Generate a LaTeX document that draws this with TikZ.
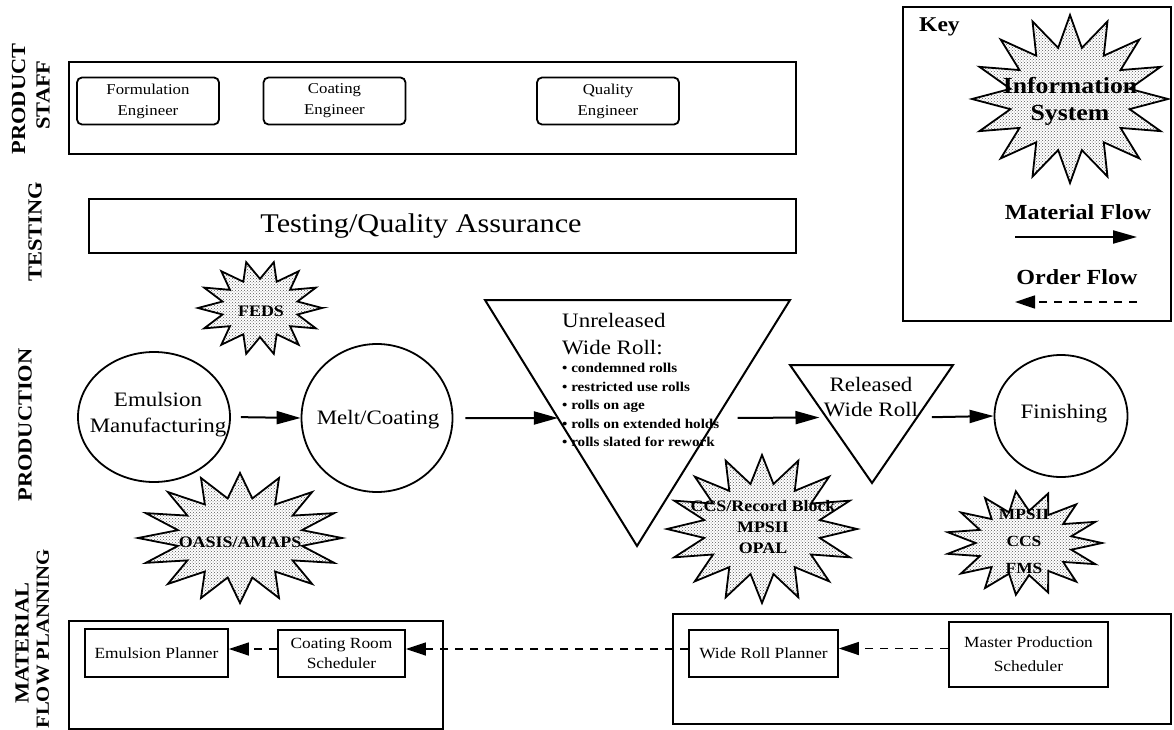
\documentclass[tikz,border=0pt]{standalone}
\usepackage{fontspec}
\setmainfont{Liberation Serif}[FakeStretch=1.12]
\usetikzlibrary{arrows.meta,calc,patterns,shapes.geometric}

% starburst outline: centre x, centre y, radius x, radius y, points, samples (=2*points+1)
\newcommand\burst[6]{%
  \draw[burststyle] plot[samples=#6, domain=0:360, variable=\t]
    ({#1+#3*(0.81+0.19*cos(#5*\t))*cos(\t)},{#2+#4*(0.81+0.19*cos(#5*\t))*sin(\t)}) -- cycle;}

\begin{document}
\begin{tikzpicture}[x=1pt,y=-1pt,
  every node/.style={inner sep=0pt, align=center},
  lane/.style={draw, line width=1.8pt, anchor=north west},
  lanelabel/.style={rotate=90, font=\bfseries\fontsize{20}{22}\selectfont},
  staffbox/.style={draw, rounded corners=5pt, line width=1.8pt, minimum width=142pt,
    minimum height=47pt, font=\fontsize{15}{21}\selectfont},
  planbox/.style={draw, line width=1.8pt, font=\fontsize{15.5}{20}\selectfont},
  proc/.style={draw, ellipse, line width=1.8pt},
  bigtext/.style={font=\fontsize{20.5}{26}\selectfont},
  trianglestyle/.style={draw, line width=2pt, line join=miter},
  burststyle/.style={draw, line width=1.8pt, line join=miter, preaction={fill=white},
    pattern=crosshatch dots, pattern color=black!65},
  systext/.style={font=\bfseries\fontsize{16}{21}\selectfont},
  keytext/.style={font=\bfseries\fontsize{21.5}{24}\selectfont},
  flow/.style={line width=2pt, -{Triangle[length=24pt,width=13pt]}},
  order/.style={line width=1.6pt, dash pattern=on 8pt off 7pt, -{Triangle[length=20pt,width=13pt]}},
]
\useasboundingbox (0,0) rectangle (1174,730);

% ---- lane titles ----
\node[lanelabel] (lblproduct) at (18.5,99) {PRODUCT};
\node[lanelabel] (lblstaff) at (43,95) {STAFF};
\node[lanelabel] (lbltesting) at (35,232) {TESTING};
\node[lanelabel] (lblproduction) at (25,425) {PRODUCTION};
\node[lanelabel] (lblmaterial) at (22,643) {MATERIAL};
\node[lanelabel, font=\bfseries\fontsize{18.5}{22}\selectfont] (lblflow) at (43,639) {FLOW PLANNING};

% ---- product staff ----
\node[lane, minimum width=727pt, minimum height=92pt] (staff) at (68,61) {};
\node[staffbox] (formeng) at (148,101) {Formulation\\Engineer};
\node[staffbox] (coateng) at (334.5,101) {Coating\\Engineer};
\node[staffbox] (qualeng) at (608,101) {Quality\\Engineer};

% ---- testing ----
\node[lane, minimum width=707pt, minimum height=54pt] (testing) at (88,198) {};
\node[font=\fontsize{27}{30}\selectfont] (testtext) at (421,226) {Testing/Quality Assurance};

% ---- information systems ----
\burst{260}{308}{62}{47}{14}{29}
\node[systext] (feds) at (261,311) {FEDS};
\burst{240}{538}{102}{65}{16}{33}
\node[systext] (oasis) at (240,542) {OASIS/AMAPS};
\burst{762}{529}{95}{74}{16}{33}
\node[systext] (ccs) at (763,527) {CCS/Record Block\\MPSII\\OPAL};
\burst{1024}{543}{78}{52}{15}{31}
\node[systext, font=\bfseries\fontsize{15.5}{27}\selectfont] (mpsii) at (1024,541) {MPSII\\CCS\\FMS};

% ---- production ----
\node[proc, minimum width=152pt, minimum height=130pt] (emul) at (154,417) {};
\node[bigtext] (emultext) at (158,415) {Emulsion\\Manufacturing};
\node[proc, minimum width=151pt, minimum height=148pt] (melt) at (377,418) {};
\node[bigtext] (melttext) at (378,420) {Melt/Coating};

\coordinate (u1) at (485,300);
\coordinate (u2) at (790,300);
\coordinate (u3) at (637,546);
\draw[trianglestyle] (u1) -- (u2) -- (u3) -- cycle;
\coordinate (uL) at ($(u1)!0.4797!(u3)$);
\coordinate (uR) at ($(u2)!0.4797!(u3)$);
\node[bigtext, align=left, anchor=west, font=\fontsize{20.5}{27}\selectfont] (unreltitle) at (562,334) {Unreleased\\Wide Roll:};
\node[align=left, anchor=west, font=\bfseries\fontsize{13.5}{18.5}\selectfont] (unrellist) at (562,405)
  {• condemned rolls\\• restricted use rolls\\• rolls on age\\• rolls on extended holds\\• rolls slated for rework};

\coordinate (r1) at (790,365);
\coordinate (r2) at (953,365);
\coordinate (r3) at (872,483);
\draw[trianglestyle] (r1) -- (r2) -- (r3) -- cycle;
\coordinate (rL) at ($(r1)!0.4449!(r3)$);
\coordinate (rR) at ($(r2)!0.4449!(r3)$);
\node[bigtext, font=\fontsize{20.5}{25}\selectfont] (reltext) at (871,397) {Released\\Wide Roll};

\node[proc, minimum width=133pt, minimum height=122pt] (finish) at (1061,416) {};
\node[bigtext] (finishtext) at (1064,414) {Finishing};

\draw[flow, shorten <=10pt] (emul.east) -- (melt.west);
\draw[flow, shorten <=12pt] (melt.east) -- (uL);
\draw[flow, shorten <=21pt, shorten >=7pt] (uR) -- (rL);
\draw[flow, shorten <=15pt] (rR) -- (finish.west);

% ---- material flow planning ----
\node[lane, minimum width=374pt, minimum height=108pt] (planleft) at (68,620) {};
\node[lane, minimum width=498pt, minimum height=110pt] (planright) at (672,613) {};
\node[planbox, minimum width=143pt, minimum height=48pt] (emulplan) at (156.5,653) {Emulsion Planner};
\node[planbox, minimum width=127pt, minimum height=47pt] (coatsched) at (341.5,653.5) {Coating Room\\Scheduler};
\node[planbox, minimum width=149pt, minimum height=47pt] (wideplan) at (763.5,653.5) {Wide Roll Planner};
\node[planbox, minimum width=159pt, minimum height=65pt, font=\fontsize{15.5}{24}\selectfont] (mastersched) at (1028.5,654.5) {Master Production\\Scheduler};

\draw[order] ([yshift=6pt]mastersched.west) -- ([yshift=5pt]wideplan.east);
\draw[order] ([yshift=4.5pt]wideplan.west) -- ([yshift=4.5pt]coatsched.east);
\draw[order] ([yshift=4.5pt]coatsched.west) -- ([yshift=4pt]emulplan.east);

% ---- key ----
\node[lane, minimum width=268pt, minimum height=314pt] (keybox) at (902,6) {};
\node[font=\bfseries\fontsize{21}{24}\selectfont, anchor=west] (keytitle) at (919,27) {Key};
\burst{1070}{99}{98}{84}{16}{33}
\node[font=\bfseries\fontsize{23}{27}\selectfont] (keyinfo) at (1070,101) {Information\\System};
\node[keytext] (keymat) at (1078,212) {Material Flow};
\coordinate (mfa) at (1015,237);
\coordinate (mfb) at (1137,237);
\draw[flow] (mfa) -- (mfb);
\node[keytext] (keyord) at (1077,277) {Order Flow};
\coordinate (ofa) at (1137,302);
\coordinate (ofb) at (1015,302);
\draw[order] (ofa) -- (ofb);
\end{tikzpicture}
\end{document}
